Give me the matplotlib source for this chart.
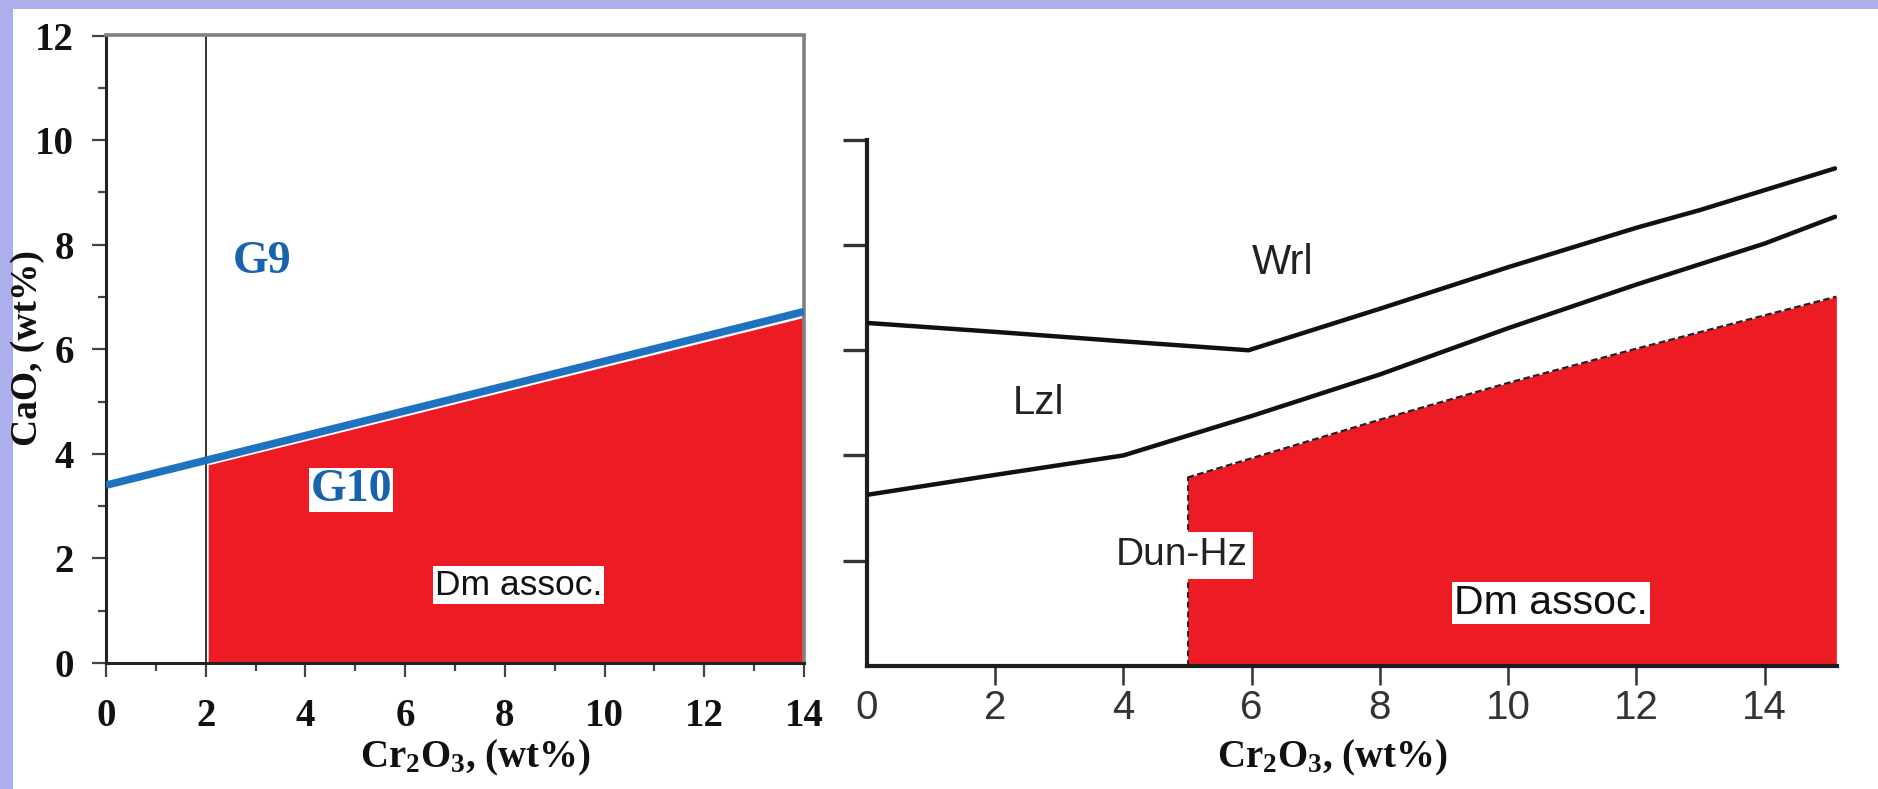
import matplotlib
matplotlib.use("Agg")
import matplotlib.pyplot as plt
from matplotlib.patches import Rectangle

# ---------------- data ----------------
# Left panel (G9 / G10 garnet classification)
left_xticks = [0, 2, 4, 6, 8, 10, 12, 14]
left_yticks = [0, 2, 4, 6, 8, 10, 12]
left_line_cr = [0.0, 14.0]
left_line_cao = [3.40, 6.72]
left_red_cr = [2.05, 14.0]
left_red_cao = [3.79, 6.61]
left_divider_cr = 2.0

# Right panel (Wrl / Lzl / Dun-Hz fields)
right_xticks = [0, 2, 4, 6, 8, 10, 12, 14]
right_xticklabels = ["0", "2", "4", "6", "8", "10", "12", "14"]
right_yticks = [2, 4, 6, 8, 10]
wrl_cr = [0.0, 2.0, 4.0, 5.95, 8.0, 10.0, 12.0, 13.0, 15.1]
wrl_cao = [6.52, 6.35, 6.17, 6.00, 6.79, 7.58, 8.33, 8.67, 9.46]
lzl_cr = [0.0, 2.0, 4.0, 6.0, 8.0, 10.0, 12.0, 14.0, 15.1]
lzl_cao = [3.25, 3.63, 4.00, 4.75, 5.54, 6.42, 7.25, 8.03, 8.54]
dm_cr = [5.0, 8.0, 10.0, 12.03, 15.12]
dm_cao = [3.58, 4.68, 5.38, 6.04, 7.02]

RED = "#ED1C24"
BLUE = "#1f72c0"
LABEL_BLUE = "#1863ad"
LAV = "#AEAEEC"

plt.rcParams["mathtext.fontset"] = "custom"
plt.rcParams["mathtext.rm"] = "Liberation Serif:bold"
plt.rcParams["mathtext.it"] = "Liberation Serif:bold"
plt.rcParams["mathtext.bf"] = "Liberation Serif:bold"

W, H = 1878, 789
fig = plt.figure(figsize=(W / 100, H / 100), dpi=100)
fig.patch.set_facecolor("white")

# lavender frame (top and left)
fig.patches.append(Rectangle((0, 1 - 9 / H), 1, 9 / H, transform=fig.transFigure,
                             facecolor=LAV, edgecolor="none", zorder=0))
fig.patches.append(Rectangle((0, 0), 12.7 / W, 1, transform=fig.transFigure,
                             facecolor=LAV, edgecolor="none", zorder=0))

serif = "Liberation Serif"
sans = "Liberation Sans"

# ---------------- left panel ----------------
axL = fig.add_axes([106 / W, (H - 663) / H, (804 - 106) / W, (663 - 35.5) / H])
axL.set_xlim(0, 14)
axL.set_ylim(0, 12)
axL.fill_between(left_red_cr, 0, left_red_cao, color=RED, lw=0, zorder=1)
axL.axvline(left_divider_cr, color="#333333", lw=1.4, zorder=2)
axL.plot(left_line_cr, left_line_cao, color=BLUE, lw=5.5, solid_capstyle="butt", zorder=3)

for s in ["left", "bottom"]:
    axL.spines[s].set_color("#222222")
    axL.spines[s].set_linewidth(2.2)
for s in ["top", "right"]:
    axL.spines[s].set_color("#808080")
    axL.spines[s].set_linewidth(2.6)

axL.set_xticks(left_xticks)
axL.set_xticklabels([str(v) for v in left_xticks])
axL.set_xticks([1, 3, 5, 7, 9, 11, 13], minor=True)
axL.set_yticks(left_yticks)
axL.set_yticklabels([str(v) for v in left_yticks])
axL.set_yticks([1, 3, 5, 7, 9, 11], minor=True)
axL.tick_params(which="major", direction="out", length=10, width=1.6, color="#444444")
axL.tick_params(which="minor", direction="out", length=6, width=1.6, color="#444444")
axL.tick_params(axis="x", which="major", pad=15)
axL.tick_params(axis="y", which="major", pad=13)
for lab in axL.get_xticklabels() + axL.get_yticklabels():
    lab.set_fontfamily(serif)
    lab.set_fontweight("bold")
    lab.set_fontsize(28)
    lab.set_color("#111111")

axL.text(3.13, 7.66, "G9", fontfamily=serif, fontweight="bold", fontsize=33,
         color=LABEL_BLUE, ha="center", va="center", zorder=5)
axL.text(4.92, 3.31, "G10", fontfamily=serif, fontweight="bold", fontsize=33,
         color=LABEL_BLUE, ha="center", va="center", zorder=5,
         bbox=dict(facecolor="white", edgecolor="none", pad=1))
axL.text(8.27, 1.49, "Dm assoc.", fontfamily=sans, fontsize=25.5, color="#111111",
         ha="center", va="center", zorder=5,
         bbox=dict(facecolor="white", edgecolor="none", pad=1.5))

fig.text(28 / W, 1 - 348 / H, "CaO, (wt%)", rotation=90, ha="center", va="center",
         fontfamily=serif, fontweight="bold", fontsize=27, color="#111111")
fig.text(475.5 / W, 1 - 767 / H, r"Cr$_2$O$_3$, (wt%)", ha="center", va="baseline",
         fontfamily=serif, fontweight="bold", fontsize=28, color="#111111")

# ---------------- right panel ----------------
axR = fig.add_axes([867 / W, (H - 665.7) / H, (1837 - 867) / W, (665.7 - 140) / H])
axR.set_xlim(0, 15.13)
axR.set_ylim(0, 10)
axR.fill_between(dm_cr, 0, dm_cao, color=RED, lw=0, zorder=1)
axR.plot(dm_cr, dm_cao, color="#222222", lw=1.6, ls=(0, (3, 1.5)), zorder=2)
axR.plot([dm_cr[0], dm_cr[0]], [0, dm_cao[0]], color="#222222", lw=1.4,
         ls=(0, (3, 2)), zorder=2)
axR.plot(wrl_cr, wrl_cao, color="#111111", lw=3.2, zorder=3, solid_capstyle="round")
axR.plot(lzl_cr, lzl_cao, color="#111111", lw=3.2, zorder=3, solid_capstyle="round")

for s in ["top", "right"]:
    axR.spines[s].set_visible(False)
for s in ["left", "bottom"]:
    axR.spines[s].set_color("#1e1e1e")
    axR.spines[s].set_linewidth(3)

axR.set_xticks(right_xticks)
axR.set_xticklabels(right_xticklabels)
axR.set_yticks(right_yticks)
axR.set_yticklabels([])
axR.tick_params(axis="x", direction="out", length=14, width=1.8, color="#333333", pad=3)
axR.tick_params(axis="y", direction="out", length=17, width=2.4, color="#333333")
axR.xaxis.get_major_ticks()[0].tick1line.set_visible(False)
for lab in axR.get_xticklabels():
    lab.set_fontfamily(sans)
    lab.set_fontsize(29)
    lab.set_color("#333333")

axR.text(6.49, 7.66, "Wrl", fontfamily=sans, fontsize=30, color="#222222",
         ha="center", va="center", zorder=5)
axR.text(2.67, 5.0, "Lzl", fontfamily=sans, fontsize=29, color="#222222",
         ha="center", va="center", zorder=5)
axR.text(4.91, 2.1, "Dun-Hz", fontfamily=sans, fontsize=28, color="#222222",
         ha="center", va="center", zorder=5,
         bbox=dict(facecolor="white", edgecolor="none", pad=4))
axR.text(10.67, 1.2, "Dm assoc.", fontfamily=sans, fontsize=29.5, color="#111111",
         ha="center", va="center", zorder=5,
         bbox=dict(facecolor="white", edgecolor="none", pad=1.5))

fig.text(1332 / W, 1 - 767 / H, r"Cr$_2$O$_3$, (wt%)", ha="center", va="baseline",
         fontfamily=serif, fontweight="bold", fontsize=28, color="#111111")

fig.savefig("out.png", dpi=100, facecolor="white")
